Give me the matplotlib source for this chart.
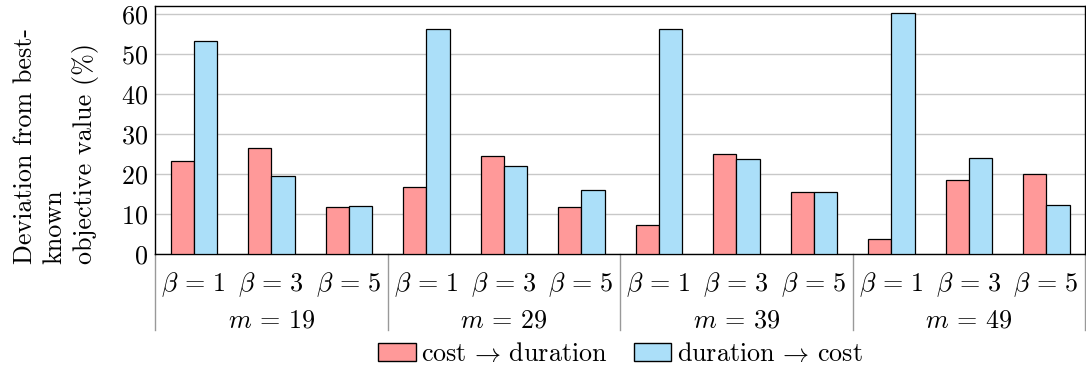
import matplotlib

matplotlib.use("Agg")
import matplotlib.pyplot as plt
import numpy as np
from matplotlib.patches import Patch

plt.rcParams["font.family"] = "serif"
plt.rcParams["font.serif"] = ["cmr10"]
plt.rcParams["mathtext.fontset"] = "cm"
plt.rcParams["axes.formatter.use_mathtext"] = True

groups = [r"$m\,=\,19$", r"$m\,=\,29$", r"$m\,=\,39$", r"$m\,=\,49$"]
betas = [r"$\beta\,=\,1$", r"$\beta\,=\,3$", r"$\beta\,=\,5$"]
series_names = [r"cost$\,\rightarrow\,$duration", r"duration$\,\rightarrow\,$cost"]

cost_to_duration = [23.2, 26.4, 11.7, 16.8, 24.6, 11.7, 7.2, 25.1, 15.4, 3.8, 18.5, 19.9]
duration_to_cost = [53.3, 19.4, 12.1, 56.2, 21.9, 16.0, 56.2, 23.8, 15.4, 60.3, 23.9, 12.2]

red = "#ff9999"
blue = "#abdff9"
fs = 18.8

fig = plt.figure(figsize=(10.86, 3.7), dpi=100)
ax = fig.add_axes([155 / 1086, 116 / 370, 930 / 1086, 248 / 370])

x = np.arange(len(cost_to_duration))
width = 0.3
ax.bar(x - width / 2, cost_to_duration, width, color=red, edgecolor="black", linewidth=0.9, zorder=3)
ax.bar(x + width / 2, duration_to_cost, width, color=blue, edgecolor="black", linewidth=0.9, zorder=3)

ax.set_xlim(-0.5, len(x) - 0.5)
ax.set_ylim(0, 62)
ax.set_yticks(range(0, 61, 10))
ax.yaxis.grid(True, color="#c8c8c8", linewidth=1.0, zorder=0)
ax.tick_params(axis="y", length=0, labelsize=fs, pad=5)
ax.tick_params(axis="x", length=0)
ax.set_xticks([])
for side in ["left", "right", "top", "bottom"]:
    ax.spines[side].set_linewidth(1.0)

# two-level category labels below the axis
for i in x:
    ax.text(i, -0.125, betas[i % 3], transform=ax.get_xaxis_transform(),
            ha="center", va="center", fontsize=fs)
for g, name in enumerate(groups):
    ax.text(3 * g + 1, -0.27, name, transform=ax.get_xaxis_transform(),
            ha="center", va="center", fontsize=fs)
for b in np.arange(-0.5, len(x), 3):
    ax.plot([b, b], [0, -0.305], transform=ax.get_xaxis_transform(),
            color="#999999", linewidth=1.0, clip_on=False)

fig.text(56 / 1086, (370 - 264) / 370,
         "Deviation from best-\nknown\nobjective value (%)",
         rotation=90, ha="center", va="bottom", multialignment="left",
         fontsize=fs, linespacing=1.28)

handles = [Patch(facecolor=red, edgecolor="black", label=series_names[0]),
           Patch(facecolor=blue, edgecolor="black", label=series_names[1])]
fig.legend(handles=handles, loc="center", bbox_to_anchor=(620 / 1086, (370 - 354) / 370),
           ncol=2, frameon=False, fontsize=fs, handlelength=1.45, handleheight=0.7,
           handletextpad=0.2, columnspacing=1.0)

fig.savefig("out.png", dpi=100)
